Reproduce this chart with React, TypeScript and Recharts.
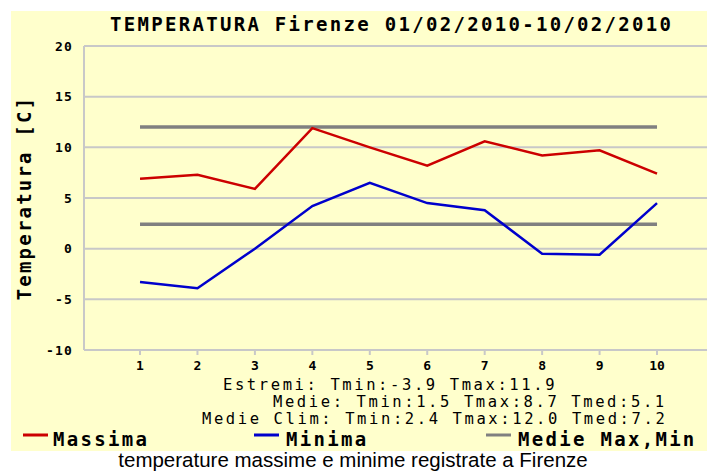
import React from "react";
import { LineChart, Line, XAxis, YAxis, CartesianGrid } from "recharts";

const days = [1, 2, 3, 4, 5, 6, 7, 8, 9, 10];
const massima = [6.9, 7.3, 5.9, 11.9, 10.0, 8.2, 10.6, 9.2, 9.7, 7.4];
const minima = [-3.3, -3.9, 0.0, 4.2, 6.5, 4.5, 3.8, -0.5, -0.6, 4.5];
const medieClimMax = 12.0;
const medieClimMin = 2.4;
const yTicks = [-10, -5, 0, 5, 10, 15, 20];

const title = "TEMPERATURA Firenze 01/02/2010-10/02/2010";
const yLabel = "Temperatura [C]";
const statLines = [
  "Estremi: Tmin:-3.9 Tmax:11.9",
  "Medie: Tmin:1.5 Tmax:8.7 Tmed:5.1",
  "Medie Clim: Tmin:2.4 Tmax:12.0 Tmed:7.2",
];
const legendNames = ["Massima", "Minima", "Medie Max,Min"];
const caption = "temperature massime e minime registrate a Firenze";

const data = days.map((d, i) => ({
  day: d,
  massima: massima[i],
  minima: minima[i],
  climMax: medieClimMax,
  climMin: medieClimMin,
}));

const MONO = "'DejaVu Sans Mono', monospace";
const RED = "#CC0000";
const BLUE = "#0000CC";
const GRAY = "#808080";
const GRID = "#C8C8C8";

const YTick = (props: any) => {
  const { x, y, payload } = props;
  return (
    <text x={x} y={y} dy="0.35em" textAnchor="end" fontFamily={MONO} fontWeight="bold" fontSize={13} letterSpacing={1.2} fill="#000">
      {payload.value}
    </text>
  );
};

const XTick = (props: any) => {
  const { x, y, payload } = props;
  return (
    <text x={x} y={y} dy="0.71em" textAnchor="middle" fontFamily={MONO} fontWeight="bold" fontSize={13} fill="#000">
      {payload.value}
    </text>
  );
};

const statX = [223, 273, 202];
const statY = [390, 407, 424];
const legendLineX = [23, 254, 486];
const legendTextX = [53, 286, 518];
const legendColors = [RED, BLUE, GRAY];

export default function App() {
  return (
    <div style={{ position: "absolute", left: 0, top: 0, width: 707, height: 473, background: "#fff", overflow: "hidden" }}>
      <div style={{ position: "absolute", left: 11, top: 11, width: 696, height: 440, background: "#FFFFCC" }} />
      <div style={{ position: "absolute", left: 0, top: 0 }}>
        <LineChart width={707} height={473} data={data} margin={{ top: 46, right: 0, bottom: 93, left: 24 }}>
          <CartesianGrid horizontal={true} vertical={false} stroke={GRID} strokeWidth={2} />
          <XAxis
            dataKey="day"
            type="number"
            domain={[0.025, 10.87]}
            ticks={days}
            allowDataOverflow
            height={30}
            stroke={GRID}
            strokeWidth={2}
            tickSize={5}
            tickMargin={6}
            tick={<XTick />}
            interval={0}
          />
          <YAxis
            type="number"
            domain={[-10, 20]}
            ticks={yTicks}
            width={60}
            stroke={GRID}
            strokeWidth={2}
            tickLine={false}
            tickSize={6}
            tickMargin={5}
            tick={<YTick />}
            interval={0}
          />
          <Line dataKey="climMax" stroke={GRAY} strokeWidth={3.5} dot={false} isAnimationActive={false} />
          <Line dataKey="climMin" stroke={GRAY} strokeWidth={3.5} dot={false} isAnimationActive={false} />
          <Line dataKey="massima" stroke={RED} strokeWidth={2.5} dot={false} isAnimationActive={false} strokeLinejoin="miter" />
          <Line dataKey="minima" stroke={BLUE} strokeWidth={2.5} dot={false} isAnimationActive={false} strokeLinejoin="miter" />
        </LineChart>
      </div>
      <svg width={707} height={473} style={{ position: "absolute", left: 0, top: 0, pointerEvents: "none" }}>
        <text x={110} y={31} fontFamily={MONO} fontWeight="bold" fontSize={19} letterSpacing={2.3} fill="#000">
          {title}
        </text>
        <text x={31} y={198} transform="rotate(-90 31 198)" textAnchor="middle" fontFamily={MONO} fontWeight="bold" fontSize={19} letterSpacing={2.2} fill="#000">
          {yLabel}
        </text>
        {statLines.map((s, i) => (
          <text key={i} x={statX[i]} y={statY[i]} fontFamily={MONO} fontSize={15.5} letterSpacing={2.6} fill="#000" xmlSpace="preserve">
            {s}
          </text>
        ))}
        {legendNames.map((n, i) => (
          <g key={n}>
            <line x1={legendLineX[i]} x2={legendLineX[i] + 25} y1={435} y2={435} stroke={legendColors[i]} strokeWidth={3} />
            <text x={legendTextX[i]} y={446} fontFamily={MONO} fontWeight="bold" fontSize={19} letterSpacing={2.3} fill="#000">
              {n}
            </text>
          </g>
        ))}
        <text x={353} y={467} textAnchor="middle" fontFamily="'Liberation Sans', Arial, sans-serif" fontSize={20.5} fill="#000">
          {caption}
        </text>
      </svg>
    </div>
  );
}
